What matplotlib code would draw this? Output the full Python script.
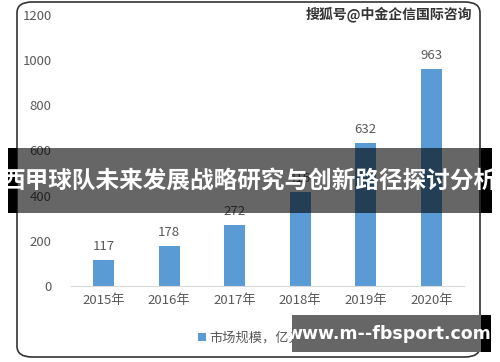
import matplotlib.pyplot as plt
from matplotlib.patches import FancyBboxPatch, Rectangle

plt.rcParams['font.family'] = ['Noto Sans CJK SC', 'DejaVu Sans']

# 数据
years = ['2015年', '2016年', '2017年', '2018年', '2019年', '2020年']
market_size = [117, 178, 272, 416, 632, 963]
y_ticks = [0, 200, 400, 600, 800, 1000, 1200]
legend_label = '市场规模，亿元'
title = '西甲球队未来发展战略研究与创新路径探讨分析'
source = '搜狐号@中金企信国际咨询'
site = 'www.m--fbsport.com'

bar_color = '#5B9BD5'
text_grey = '#595959'

fig = plt.figure(figsize=(5, 3.62), dpi=100)
fig.patch.set_facecolor('white')

# 圆角边框
card = FancyBboxPatch((17 / 500, 5 / 362), 463 / 500, 355 / 362,
                      boxstyle='round,pad=0,rounding_size=0.03',
                      transform=fig.transFigure, facecolor='white',
                      edgecolor='#333333', linewidth=1.2, zorder=-5)
fig.patches.append(card)

ax = fig.add_axes([71 / 500, 76 / 362, 393 / 500, 271 / 362])
ax.set_zorder(1)
ax.set_facecolor('none')
x = range(len(years))
bars = ax.bar(x, market_size, width=0.32, color=bar_color, zorder=2)
ax.set_xlim(-0.5, len(years) - 0.5)
ax.set_ylim(0, 1200)
ax.set_yticks(y_ticks)
ax.set_yticklabels([str(t) for t in y_ticks], color=text_grey, fontsize=9.5)
ax.set_xticks(list(x))
ax.set_xticklabels(years, color=text_grey, fontsize=9.5)
ax.tick_params(axis='both', length=0)
ax.tick_params(axis='y', pad=14)
ax.tick_params(axis='x', pad=6)
for s in ['top', 'right', 'left']:
    ax.spines[s].set_visible(False)
ax.spines['bottom'].set_color('#D9D9D9')

for b, v in zip(bars, market_size):
    ax.text(b.get_x() + b.get_width() / 2, v + 30, str(v),
            ha='center', va='bottom', color=text_grey, fontsize=9.5)

leg = ax.legend([bars[0]], [legend_label], loc='center',
                bbox_to_anchor=(0.5, 24 / 362), bbox_transform=fig.transFigure,
                frameon=False, fontsize=9.5, handlelength=0.6, handleheight=0.6,
                handletextpad=0.3)
for t in leg.get_texts():
    t.set_color(text_grey)

fig.text(472 / 500, 1 - 14 / 362, source, ha='right', va='center',
         fontsize=10, color='#333333', fontweight='bold')

# 标题横幅
fig.patches.append(Rectangle((8 / 500, 1 - 213 / 362), 484 / 500, 65 / 362,
                             transform=fig.transFigure, facecolor='black',
                             alpha=0.6, zorder=5))
fig.patches.append(Rectangle((8 / 500, 1 - 213 / 362), 9 / 500, 65 / 362,
                             transform=fig.transFigure, facecolor='black', zorder=5))
fig.patches.append(Rectangle((481 / 500, 1 - 213 / 362), 11 / 500, 65 / 362,
                             transform=fig.transFigure, facecolor='black', zorder=5))
fig.text(0.5, 1 - 181 / 362, title, ha='center', va='center', color='white',
         fontsize=17, fontweight='bold', zorder=6)

# 网址水印
fig.patches.append(Rectangle((292 / 500, 1 - 352 / 362), 189 / 500, 37 / 362,
                             transform=fig.transFigure, facecolor='#666666', zorder=5))
fig.patches.append(Rectangle((481 / 500, 1 - 352 / 362), 10 / 500, 37 / 362,
                             transform=fig.transFigure, facecolor='black', zorder=5))
fig.text(389 / 500, 1 - 334 / 362, site, ha='center', va='center', color='white',
         fontsize=12.5, fontweight='bold', family=['DejaVu Sans'], zorder=6)

fig.savefig('out.png', dpi=100)
